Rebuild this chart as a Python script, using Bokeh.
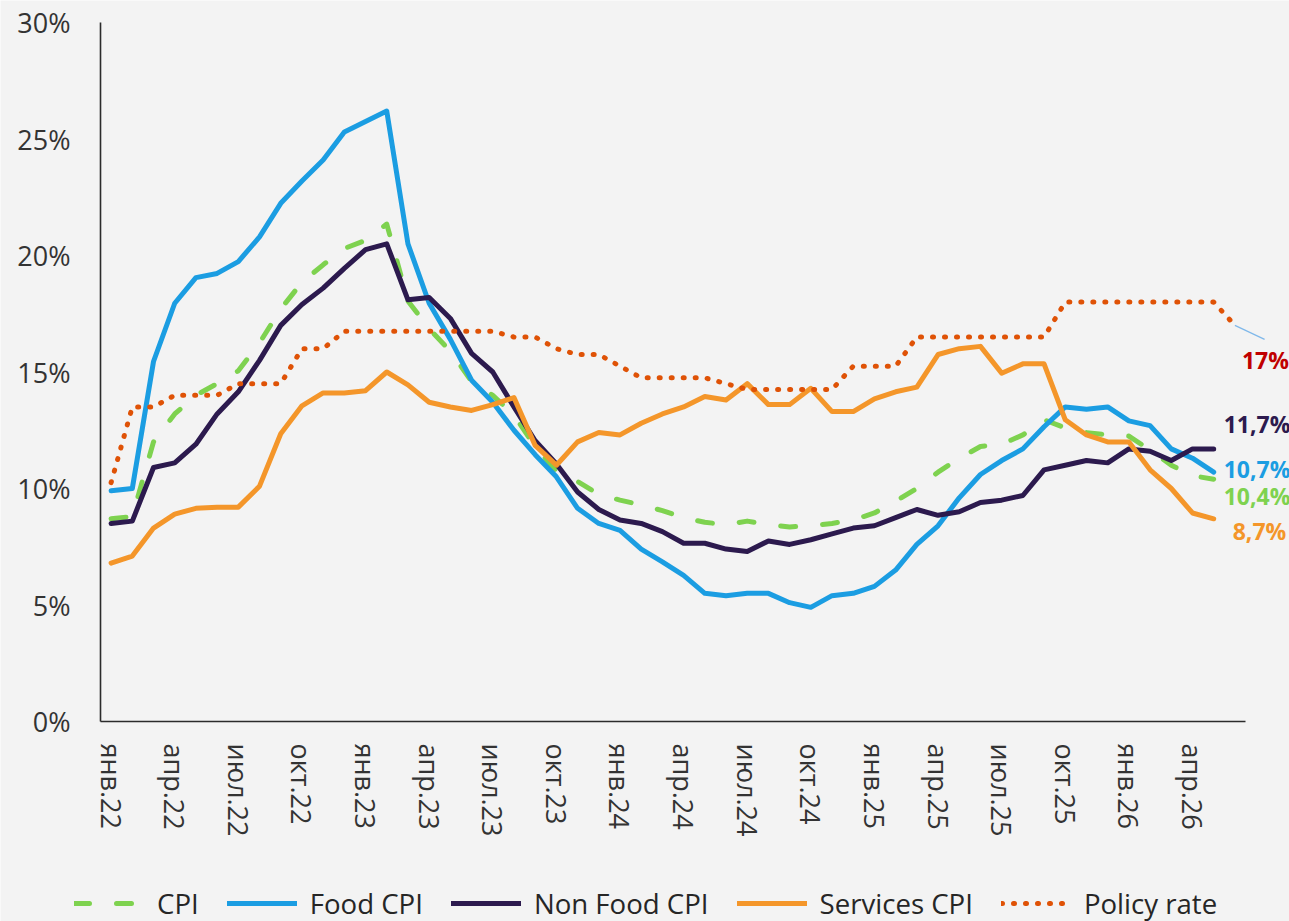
import re
from bokeh.plotting import figure
from bokeh.models import (Range1d, FixedTicker, PrintfTickFormatter, Legend, LegendItem,
                          Label, Arrow)
from bokeh.embed import file_html
from bokeh.resources import INLINE

# ---------------- data ----------------
months = [f"{m}.{y}" for y in ["22", "23", "24", "25", "26"]
          for m in ["янв", "фев", "мар", "апр", "мая", "июн", "июл", "авг", "сен", "окт", "ноя", "дек"]][:54]

cpi = [8.7, 8.8, 12.0, 13.2, 14.0, 14.5, 15.05, 16.25, 17.7, 18.85,
       19.6, 20.3, 20.65, 21.35, 18.05, 16.85, 15.9, 14.6, 14.0, 13.15,
       11.8, 10.75, 10.3, 9.75, 9.5, 9.3, 9.05, 8.75, 8.55, 8.45,
       8.6, 8.45, 8.35, 8.4, 8.5, 8.65, 8.95, 9.45, 10.0, 10.7,
       11.3, 11.8, 11.9, 12.3, 12.95, 12.6, 12.4, 12.3, 12.25, 11.65,
       11.0, 10.55, 10.4]

food = [9.9, 10.0, 15.45, 17.95, 19.05, 19.23, 19.74, 20.8, 22.24, 23.2,
        24.1, 25.3, 25.75, 26.2, 20.5, 17.95, 16.4, 14.65, 13.7, 12.5,
        11.45, 10.5, 9.15, 8.5, 8.2, 7.4, 6.85, 6.27, 5.5, 5.4,
        5.5, 5.5, 5.1, 4.9, 5.4, 5.5, 5.8, 6.5, 7.6, 8.4,
        9.6, 10.6, 11.2, 11.7, 12.65, 13.5, 13.4, 13.5, 12.9, 12.7,
        11.7, 11.3, 10.7]

nonfood = [8.5, 8.6, 10.9, 11.1, 11.9, 13.2, 14.15, 15.5, 17.0, 17.9,
           18.6, 19.45, 20.25, 20.5, 18.1, 18.2, 17.3, 15.8, 15.0, 13.5,
           12.05, 11.05, 9.85, 9.1, 8.65, 8.5, 8.15, 7.65, 7.65, 7.4,
           7.3, 7.75, 7.6, 7.8, 8.05, 8.3, 8.4, 8.75, 9.1, 8.85,
           9.0, 9.4, 9.5, 9.7, 10.8, 11.0, 11.2, 11.1, 11.7, 11.6,
           11.2, 11.7, 11.7]

services = [6.8, 7.1, 8.3, 8.9, 9.15, 9.2, 9.2, 10.1, 12.35, 13.55,
            14.1, 14.1, 14.2, 15.0, 14.45, 13.7, 13.5, 13.35, 13.6, 13.9,
            11.85, 11.0, 12.0, 12.4, 12.3, 12.8, 13.2, 13.5, 13.95, 13.8,
            14.5, 13.6, 13.6, 14.3, 13.3, 13.3, 13.85, 14.15, 14.35, 15.75,
            16.0, 16.1, 14.95, 15.35, 15.35, 12.95, 12.3, 12.0, 12.0, 10.8,
            10.0, 8.95, 8.7]

policy = [10.25, 13.5, 13.5, 14.0, 14.0, 14.0, 14.5, 14.5, 14.5, 16.0,
          16.0, 16.75, 16.75, 16.75, 16.75, 16.75, 16.75, 16.75, 16.75, 16.5,
          16.5, 16.0, 15.75, 15.75, 15.25, 14.75, 14.75, 14.75, 14.75, 14.5,
          14.25, 14.25, 14.25, 14.25, 14.25, 15.25, 15.25, 15.25, 16.5, 16.5,
          16.5, 16.5, 16.5, 16.5, 16.5, 18.0, 18.0, 18.0, 18.0, 18.0,
          18.0, 18.0, 18.0, 17.0]

tick_positions = list(range(0, 54, 3))
tick_labels = [months[i] for i in tick_positions]
y_ticks = [0, 5, 10, 15, 20, 25, 30]

# ---------------- styles ----------------
BG = "#f3f3f3"
C_CPI = "#7ed24f"
C_FOOD = "#1b9de2"
C_NONFOOD = "#2c1a4e"
C_SERV = "#f4962a"
C_POL = "#df5206"
FONT = "Open Sans"

W, H = 1289, 921
# plot area in pixels: x axis from 100 to 1245, y axis from 721 (0%) to 22 (30%)
n_cat = len(months)
pxu_x = (1245 - 100) / n_cat
pxu_y = (721 - 22) / 30.0
x_lo = -0.5 - 100 / pxu_x
x_hi = n_cat - 0.5 + (W - 1245) / pxu_x
y_lo = -(H - 721) / pxu_y
y_hi = 30 + 22 / pxu_y

p = figure(width=W, height=H, x_range=Range1d(x_lo, x_hi), y_range=Range1d(y_lo, y_hi),
           output_backend="svg", toolbar_location=None, title=None,
           min_border_left=0, min_border_right=0, min_border_top=0, min_border_bottom=0,
           background_fill_color=BG, border_fill_color=BG, outline_line_color=None)
p.xgrid.visible = False
p.ygrid.visible = False

xs = list(range(n_cat))
common = dict(line_width=5, line_join="round", line_cap="round")
r_cpi = p.line(xs[:len(cpi)], cpi, line_color=C_CPI, line_dash="15 27", **common)
r_food = p.line(xs[:len(food)], food, line_color=C_FOOD, **common)
r_nonfood = p.line(xs[:len(nonfood)], nonfood, line_color=C_NONFOOD, **common)
r_serv = p.line(xs[:len(services)], services, line_color=C_SERV, **common)
r_pol = p.line(xs[:len(policy)], policy, line_color=C_POL, line_dash="1 11", **common)

# axes
for ax in (p.xaxis[0], p.yaxis[0]):
    ax.axis_line_color = "#2b2b2b"
    ax.axis_line_width = 1.6
    ax.major_tick_line_color = None
    ax.minor_tick_line_color = None
    ax.major_tick_out = 0
    ax.major_tick_in = 0
    ax.major_label_text_font = FONT
    ax.major_label_text_font_size = "27px"
    ax.major_label_text_color = "#333333"

p.xaxis.fixed_location = 0
p.xaxis.bounds = (-0.5, n_cat - 0.5)
p.xaxis.ticker = FixedTicker(ticks=tick_positions)
p.xaxis.major_label_overrides = {pos: lab for pos, lab in zip(tick_positions, tick_labels)}
p.xaxis.major_label_orientation = "vertical"
p.xaxis.major_label_standoff = 22

p.yaxis.fixed_location = -0.5
p.yaxis.bounds = (0, 30)
p.yaxis.ticker = FixedTicker(ticks=y_ticks)
p.yaxis.formatter = PrintfTickFormatter(format="%d%%")
p.yaxis.major_label_standoff = 30

# end labels
def fmt(v):
    s = f"{v:.1f}".replace(".", ",")
    if s.endswith(",0"):
        s = s[:-2]
    return s + "%"

end_labels = [
    (len(nonfood) - 1, nonfood[-1], C_NONFOOD, 10, 25),
    (len(food) - 1, food[-1], C_FOOD, 10, 3),
    (len(cpi) - 1, cpi[-1], C_CPI, 10, -17),
    (len(services) - 1, services[-1], C_SERV, 19, -12),
]
for xi, yv, col, xo, yo in end_labels:
    p.add_layout(Label(x=xi, y=yv, text=fmt(yv), x_offset=xo, y_offset=yo,
                       text_font=FONT, text_font_size="23px", text_font_style="bold",
                       text_color=col, text_align="left", text_baseline="middle"))

# policy-rate label with leader line
pol_x = len(policy) - 1
pol_y = policy[-1]
p.add_layout(Arrow(end=None, x_start=pol_x, y_start=pol_y, x_end=pol_x + 1.4, y_end=pol_y - 0.6,
                   line_color="#7fb8ea", line_width=1.2))
p.add_layout(Label(x=pol_x, y=pol_y, text=fmt(pol_y), x_offset=7, y_offset=-35,
                   text_font=FONT, text_font_size="23px", text_font_style="bold",
                   text_color="#c00000", text_align="left", text_baseline="middle"))

legend = Legend(items=[LegendItem(label="CPI", renderers=[r_cpi]),
                       LegendItem(label="Food CPI", renderers=[r_food]),
                       LegendItem(label="Non Food CPI", renderers=[r_nonfood]),
                       LegendItem(label="Services CPI", renderers=[r_serv]),
                       LegendItem(label="Policy rate", renderers=[r_pol])],
                orientation="horizontal", location=(74, -1),
                label_text_font=FONT, label_text_font_size="27.6px", label_text_color="#262626",
                glyph_width=70, glyph_height=32, label_standoff=13, spacing=28,
                padding=0, margin=0, border_line_color=None, background_fill_alpha=0)
p.add_layout(legend)

html = file_html(p, INLINE)
html = re.sub(r"<body([^>]*)>", r'<body\1 style="background-color:#f3f3f3;">', html, count=1)
open("out.html", "w").write(html)
